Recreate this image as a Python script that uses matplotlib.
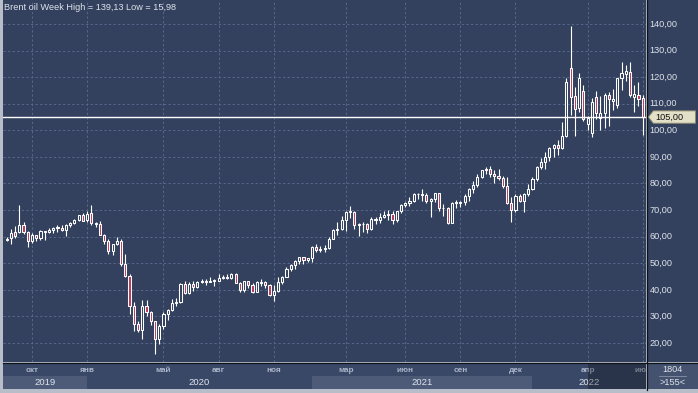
import matplotlib
matplotlib.use("Agg")
import matplotlib.pyplot as plt
from matplotlib.patches import Rectangle, Polygon
from matplotlib.lines import Line2D
import numpy as np
import pandas as pd

# ---------------- data (weekly Brent bars) ----------------
opens = [58.7, 59.4, 61.6, 61.8, 64.5, 61.9, 58.4, 60.5, 59.4, 62.0,
         61.7, 62.5, 63.3, 63.4, 62.4, 64.4, 65.2, 66.1, 68.2, 66.2,
         68.9, 65.0, 64.9, 60.7, 58.2, 54.5, 57.3, 58.5, 49.7, 45.3,
         33.9, 27.0, 24.9, 34.1, 31.5, 28.1, 21.4, 26.4, 31.0, 32.5,
         35.1, 35.3, 42.3, 38.7, 42.2, 41.0, 42.8, 43.2, 43.1, 43.3,
         43.5, 44.4, 44.8, 44.4, 45.8, 42.7, 39.8, 43.2, 41.9, 39.3,
         42.6, 42.9, 41.8, 37.9, 39.5, 42.8, 45.0, 47.8, 49.3, 51.0,
         52.3, 51.3, 51.8, 56.0, 55.1, 55.4, 55.9, 59.3, 62.4, 62.9,
         66.1, 69.4, 69.2, 64.5, 64.6, 64.9, 63.0, 66.8, 66.1, 67.3,
         68.3, 68.7, 66.4, 69.6, 71.9, 72.7, 73.5, 75.9, 76.2, 75.6,
         73.6, 74.1, 76.3, 70.7, 70.6, 65.2, 72.7, 72.6, 72.9, 75.3,
         78.1, 79.3, 82.4, 84.9, 85.5, 83.7, 82.7, 82.2, 78.9, 72.7,
         69.9, 75.2, 73.5, 76.1, 77.8, 81.8, 86.1, 87.9, 90.0, 93.3,
         94.4, 93.5, 97.9, 123.3, 112.9, 108.3, 114.8, 102.2, 99.0, 112.7,
         104.5, 106.4, 113.3, 110.9, 109.5, 119.6, 121.3, 122.1, 112.5, 113.3,
         112.0]
highs = [59.8, 63.0, 64.0, 71.9, 65.7, 62.3, 61.3, 60.7, 62.4, 62.3,
         63.3, 63.5, 64.2, 64.4, 64.6, 65.5, 66.6, 68.2, 69.0, 69.5,
         71.8, 65.7, 66.0, 61.0, 59.0, 57.4, 60.0, 59.3, 53.6, 45.9,
         35.3, 28.4, 36.3, 36.0, 32.2, 28.4, 27.0, 31.6, 32.6, 36.4,
         37.0, 42.4, 43.4, 43.1, 43.3, 43.5, 44.0, 43.9, 45.0, 44.2,
         45.9, 45.5, 45.9, 46.2, 46.5, 42.9, 43.4, 43.2, 42.5, 43.2,
         43.9, 43.4, 42.2, 41.7, 45.0, 45.2, 48.7, 49.9, 51.1, 52.5,
         52.5, 52.0, 56.6, 57.4, 56.6, 56.8, 59.8, 62.8, 65.5, 67.7,
         69.8, 71.4, 69.7, 65.0, 65.6, 65.0, 67.4, 67.4, 69.0, 69.8,
         70.0, 69.5, 69.7, 72.1, 73.1, 74.9, 76.4, 76.5, 77.8, 76.4,
         74.4, 76.6, 76.4, 72.1, 71.3, 72.9, 73.8, 73.6, 76.0, 78.4,
         80.8, 83.5, 85.1, 86.1, 86.7, 85.0, 85.5, 82.8, 82.5, 74.9,
         76.0, 76.0, 76.6, 79.8, 82.4, 86.7, 89.5, 91.7, 93.7, 95.0,
         96.2, 103.0, 119.8, 139.1, 116.4, 121.6, 117.0, 105.3, 112.0, 114.8,
         113.0, 114.0, 114.5, 115.5, 119.8, 125.6, 124.4, 125.6, 117.0, 118.2,
         113.2]
lows = [58.2, 57.2, 59.5, 61.3, 61.0, 56.2, 57.8, 58.3, 58.6, 58.8,
        61.2, 61.2, 61.7, 62.0, 60.3, 63.5, 64.9, 66.0, 65.9, 65.6,
        64.3, 63.6, 60.5, 57.3, 53.5, 53.1, 57.0, 49.1, 44.8, 31.0,
        24.5, 24.0, 21.6, 30.0, 26.9, 16.0, 19.5, 25.4, 28.8, 32.0,
        33.9, 35.1, 38.4, 38.5, 39.5, 40.5, 42.4, 42.0, 42.8, 41.5,
        43.3, 44.2, 44.0, 43.9, 42.4, 39.2, 39.3, 40.8, 38.8, 39.0,
        41.5, 40.6, 37.5, 35.7, 39.3, 42.2, 44.7, 46.9, 47.8, 49.9,
        49.7, 50.6, 50.4, 54.2, 54.3, 54.4, 55.5, 59.1, 60.7, 62.4,
        62.1, 67.1, 62.8, 60.3, 61.9, 61.3, 62.6, 64.6, 65.0, 66.9,
        66.2, 64.6, 65.4, 69.0, 71.1, 71.6, 73.0, 74.2, 73.3, 72.6,
        67.4, 72.9, 69.8, 67.8, 64.6, 65.1, 70.6, 71.0, 72.0, 73.5,
        76.6, 78.6, 82.1, 83.6, 82.3, 80.1, 81.5, 78.3, 72.1, 65.7,
        69.3, 72.9, 69.3, 75.3, 77.5, 80.8, 85.5, 85.6, 88.4, 90.1,
        90.9, 92.9, 97.4, 105.6, 98.0, 107.0, 103.5, 100.1, 97.6, 104.4,
        100.2, 101.0, 101.5, 107.5, 108.5, 115.3, 118.5, 112.6, 107.0, 109.0,
        98.2]
closes = [59.3, 61.5, 60.2, 64.3, 61.9, 58.4, 60.5, 59.4, 62.0, 61.7,
          62.5, 63.3, 63.4, 62.4, 64.4, 65.2, 66.1, 68.2, 66.0, 68.6,
          65.0, 64.9, 60.7, 58.2, 54.5, 57.3, 58.5, 49.7, 45.3, 33.9,
          27.0, 24.9, 34.1, 31.5, 28.1, 21.4, 26.4, 31.0, 32.5, 35.1,
          35.3, 42.3, 38.7, 42.2, 41.0, 42.8, 43.2, 43.1, 43.3, 43.5,
          44.4, 44.8, 44.4, 45.8, 42.7, 39.8, 43.2, 41.9, 39.3, 42.9,
          42.9, 41.8, 37.9, 39.5, 42.8, 45.0, 47.8, 49.3, 51.0, 52.3,
          51.3, 51.8, 56.0, 55.1, 55.4, 55.9, 59.3, 62.4, 62.9, 66.1,
          69.4, 69.2, 64.5, 64.6, 64.9, 63.0, 66.8, 66.1, 67.3, 68.3,
          68.7, 66.4, 69.6, 71.9, 72.7, 73.5, 76.2, 76.2, 75.6, 73.6,
          74.1, 76.3, 70.7, 70.6, 65.2, 72.7, 72.6, 72.9, 75.3, 78.1,
          79.3, 82.4, 84.9, 85.5, 83.7, 82.7, 82.2, 78.9, 72.7, 69.9,
          75.2, 73.5, 76.1, 77.8, 81.8, 86.1, 87.9, 90.0, 93.3, 94.4,
          93.5, 97.9, 118.1, 112.7, 107.9, 119.6, 104.4, 104.6, 110.8, 106.4,
          106.6, 113.3, 111.7, 111.9, 119.6, 121.7, 122.4, 113.3, 113.8, 111.7,
          105.0]
last_price = 105.0
title_text = "Brent oil Week High = 139,13 Low = 15,98"
price_ticks = [20, 30, 40, 50, 60, 70, 80, 90, 100, 110, 120, 130, 140]
month_keys = ["2019-10", "2020-01", "2020-05", "2020-08", "2020-11", "2021-03",
              "2021-06", "2021-09", "2021-12", "2022-04", "2022-07"]
month_labels = ["окт", "янв", "май", "авг", "ноя", "мар",
                "июн", "сен", "дек", "апр", "июл"]
years = [2019, 2020, 2021, 2022]
footer_top = "1804"
footer_bottom = ">155<"

# weekly bars; the week spanning the new year 2020 is split in two bars
mondays = list(pd.date_range("2019-08-26", "2022-07-04", freq="W-MON"))
split_at = mondays.index(pd.Timestamp("2019-12-30")) + 1
mondays.insert(split_at, pd.Timestamp("2020-01-02"))
bar_dates = pd.DatetimeIndex(mondays)
n = len(closes)
assert len(bar_dates) == n == len(opens) == len(highs) == len(lows)

# ---------------- styling ----------------
W, H = 698, 393
BG = "#33415e"
GRID = "#56668a"
RED = "#b83c5c"
ROW_BG = "#3a4867"
BAND = "#4d5b79"
TXT = "#dfe3ea"
FONT = "Liberation Sans"

fig = plt.figure(figsize=(W / 100, H / 100), dpi=100)
fig.patch.set_facecolor("#b8bec9")


def px_axes(x0, y0, x1, y1, **kw):
    a = fig.add_axes([x0 / W, 1 - y1 / H, (x1 - x0) / W, (y1 - y0) / H], **kw)
    for s in a.spines.values():
        s.set_visible(False)
    a.set_xticks([])
    a.set_yticks([])
    return a


XL = (-0.84, n - 0.23)
YL = (12.85, 149.03)

# ---------------- main chart ----------------
ax = px_axes(3, 0, 646, 362)
ax.set_facecolor(BG)
ax.set_xlim(*XL)
ax.set_ylim(*YL)

tick_idx = []
for key in month_keys:
    yy, mm = map(int, key.split("-"))
    mask = (bar_dates.year == yy) & (bar_dates.month == mm)
    tick_idx.append(int(np.argmax(mask)))

for p in price_ticks:
    ax.axhline(p, color=GRID, lw=0.75, ls=(0, (2.2, 2.2)), zorder=0)
for t in tick_idx:
    ax.axvline(t, color=GRID, lw=0.75, ls=(0, (2.2, 2.2)), zorder=0)

o = np.array(opens)
h = np.array(highs)
l = np.array(lows)
c = np.array(closes)
idx = np.arange(n)
up = c >= o
ax.vlines(idx, l, h, color="white", lw=0.8, zorder=2)
bottom = np.minimum(o, c)
height = np.maximum(np.abs(c - o), 0.3)
ax.bar(idx, height, bottom=bottom, width=0.5,
       color=[BG if u else RED for u in up],
       edgecolor="white", linewidth=0.75, zorder=3)

ax.axhline(last_price, color="white", lw=1.0, zorder=4)

ax.text(1 / 643, 1 - 8 / 362, title_text, transform=ax.transAxes,
        ha="left", va="center", fontsize=6.6, family=FONT, color=TXT, zorder=6)

# ---------------- right price axis ----------------
axr = px_axes(647, 0, 698, 362)
axr.set_facecolor(BG)
axr.set_xlim(0, 51)
axr.set_ylim(*YL)
for p in price_ticks:
    axr.text(2.5, p, f"{p:.2f}".replace(".", ","), ha="left", va="center",
             fontsize=6.6, family=FONT, color=TXT)
hh = 6.2 / (362 / (YL[1] - YL[0]))
axr.add_patch(Polygon([(1.3, last_price), (6.3, last_price + hh), (48.5, last_price + hh),
                       (48.5, last_price - hh), (6.3, last_price - hh)],
                      closed=True, facecolor="#e2e0c6", edgecolor="#8c8a72", lw=0.7, zorder=5))
axr.text(8, last_price, f"{last_price:.2f}".replace(".", ","), ha="left", va="center",
         fontsize=6.6, family=FONT, color="#111111", zorder=6)

# ---------------- bottom date strip ----------------
axb = px_axes(3, 363, 646, 389)
axb.set_facecolor(ROW_BG)
axb.set_xlim(*XL)
axb.set_ylim(26, 0)
starts = []
for y in years:
    m = bar_dates.year == y
    starts.append(XL[0] if y == years[0] else int(np.argmax(m)))
ends = starts[1:] + [XL[1]]
for k, (y, s, e) in enumerate(zip(years, starts, ends)):
    if k % 2 == 0:
        axb.add_patch(Rectangle((s, 13), e - s, 13, facecolor=BAND, edgecolor="none", zorder=1))
    axb.text((s + e) / 2, 19.3, str(y), ha="center", va="center", fontsize=6.8,
             family=FONT, color=TXT, zorder=3, clip_on=True)
for t, lab in zip(tick_idx, month_labels):
    axb.text(t, 7.3, lab, ha="center", va="center", fontsize=5.9, family=FONT,
             weight="bold", color="#aab5ca", zorder=3, clip_on=True)
axb.add_patch(Rectangle((tick_idx[-2], 0), XL[1] - tick_idx[-2], 26,
                        facecolor="black", alpha=0.28, edgecolor="none", zorder=5))

# ---------------- corner box ----------------
axc = px_axes(647, 363, 698, 389)
axc.set_facecolor("#44526f")
axc.set_xlim(0, 51)
axc.set_ylim(26, 0)
axc.text(25.5, 7, footer_top, ha="center", va="center", fontsize=6.6, family=FONT, color=TXT)
axc.plot([12, 39], [13, 13], color="#8892a8", lw=0.6)
axc.text(25.5, 19.5, footer_bottom, ha="center", va="center", fontsize=6.6, family=FONT, color=TXT)

# ---------------- separators ----------------
ov = fig.add_axes([0, 0, 1, 1], zorder=20)
ov.set_xlim(0, W)
ov.set_ylim(H, 0)
ov.axis("off")
ov.add_line(Line2D([646.5, 646.5], [0, 389.5], color="#0d1118", lw=0.9))
ov.add_line(Line2D([3, W], [362.5, 362.5], color="#0d1118", lw=0.9))

fig.savefig("out.png", dpi=100, facecolor=fig.get_facecolor())
